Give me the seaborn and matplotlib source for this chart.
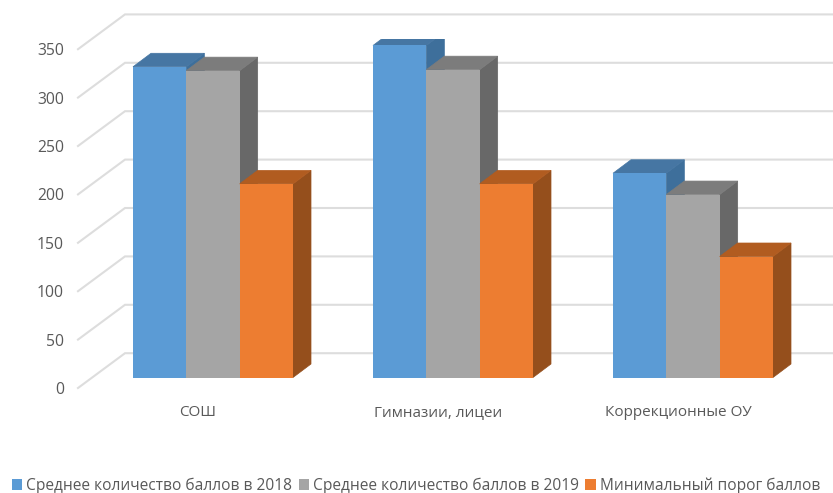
#!/usr/bin/env python3
# -*- coding: utf-8 -*-
"""Excel style 3D clustered bars: seaborn draws the fronts, depth faces are added on top."""

import matplotlib
matplotlib.use('Agg')
import matplotlib.pyplot as plt
from matplotlib.patches import Polygon
from matplotlib.transforms import ScaledTranslation
import pandas as pd
import seaborn as sns

categories = ['СОШ', 'Гимназии, лицеи', 'Коррекционные ОУ']
series_names = ['Среднее количество баллов в 2018',
                'Среднее количество баллов в 2019',
                'Минимальный порог баллов']
scores_2018 = [321, 343, 211]
scores_2019 = [317, 318, 189]
threshold = [200, 200, 125]
y_ticks = [0, 50, 100, 150, 200, 250, 300, 350]

front_colors = ['#5B9BD5', '#A5A5A5', '#ED7D31']
top_colors = ['#4676A3', '#7C7C7C', '#B15C20']
side_colors = ['#3E6F9B', '#686868', '#954F1C']
text_color = '#595959'
grid_color = '#DDDDDD'

DPI = 100
W, H = 833, 493

# Axes box is the plane of the bar fronts, in pixels
LEFT, RIGHT, BOTTOM, TOP = 93, 813, 377.5, 38.7
X_UNIT = (RIGHT - LEFT) / 3
Y_UNIT = (BOTTOM - TOP) / 350


def px_offset(fig, dx, dy):
    """Translation in pixels (y up) for shifting tick labels off the bar plane."""
    return ScaledTranslation(dx / DPI, dy / DPI, fig.dpi_scale_trans)


def add_depth(ax, bar, k):
    """Adds side and top faces behind one bar front."""
    x0, x1 = bar.get_x(), bar.get_x() + bar.get_width()
    h = bar.get_height()
    dx, dy = 18 / X_UNIT, 13.5 / Y_UNIT
    ax.add_patch(Polygon([(x1, 0), (x1 + dx, dy), (x1 + dx, h + dy), (x1, h)],
                         facecolor=side_colors[k], edgecolor=side_colors[k], lw=0.5, zorder=2 + k))
    ax.add_patch(Polygon([(x0, h), (x0 + dx, h + dy), (x1 + dx, h + dy), (x1, h)],
                         facecolor=top_colors[k], edgecolor=top_colors[k], lw=0.5, zorder=2 + k))
    bar.set_zorder(2.5 + k)


def main():
    plt.rcParams['font.family'] = ['Open Sans', 'DejaVu Sans']

    df = pd.DataFrame({'category': categories, series_names[0]: scores_2018,
                       series_names[1]: scores_2019, series_names[2]: threshold})
    long_df = df.melt(id_vars='category', var_name='series', value_name='score')

    fig = plt.figure(figsize=(W / DPI, H / DPI), dpi=DPI)
    ax = fig.add_axes([LEFT / W, 1 - BOTTOM / H, (RIGHT - LEFT) / W, (BOTTOM - TOP) / H])

    sns.barplot(data=long_df, x='category', y='score', hue='series', hue_order=series_names,
                palette=front_colors, saturation=1, width=2 / 3, gap=0, ax=ax)

    ax.set_xlim(-0.5, 2.5)
    ax.set_ylim(0, 350)
    ax.set_xlabel('')
    ax.set_ylabel('')
    ax.set_yticks(y_ticks)
    ax.patch.set_alpha(0)
    for spine in ax.spines.values():
        spine.set_visible(False)

    # Depth faces
    for k, container in enumerate(ax.containers):
        for bar in container:
            add_depth(ax, bar, k)

    # Gridlines run up the left wall, then along the back wall
    x_front, x_back = -0.5 - 15 / X_UNIT, -0.5 + 32 / X_UNIT
    y_front, y_back = -10.5 / Y_UNIT, 24.3 / Y_UNIT
    for value in y_ticks:
        ax.plot([x_front, x_back, 3.2], [value + y_front, value + y_back, value + y_back],
                color=grid_color, lw=1.5, clip_on=False, zorder=1, solid_joinstyle='miter')

    # Tick labels belong to the front edge of the floor, not the bar plane
    ax.tick_params(axis='y', length=0, pad=21, labelsize=11.3, labelcolor=text_color)
    ax.tick_params(axis='x', length=0, pad=19.5, labelsize=11, labelcolor=text_color)
    for label in ax.get_yticklabels():
        label.set_transform(label.get_transform() + px_offset(fig, 0, -10.5))
    for label in ax.get_xticklabels():
        label.set_transform(label.get_transform() + px_offset(fig, -15, 0))

    handles, labels = ax.get_legend_handles_labels()
    ax.legend_.remove()
    fig.legend(handles, labels, ncol=3, loc='lower left', bbox_to_anchor=(12 / W, -1 / H),
               frameon=False, fontsize=11.2, labelcolor=text_color, borderpad=0, borderaxespad=0,
               handlelength=0.66, handleheight=0.66, handletextpad=0.25, columnspacing=0.42)

    plt.savefig('out.png', dpi=DPI)


if __name__ == '__main__':
    main()
